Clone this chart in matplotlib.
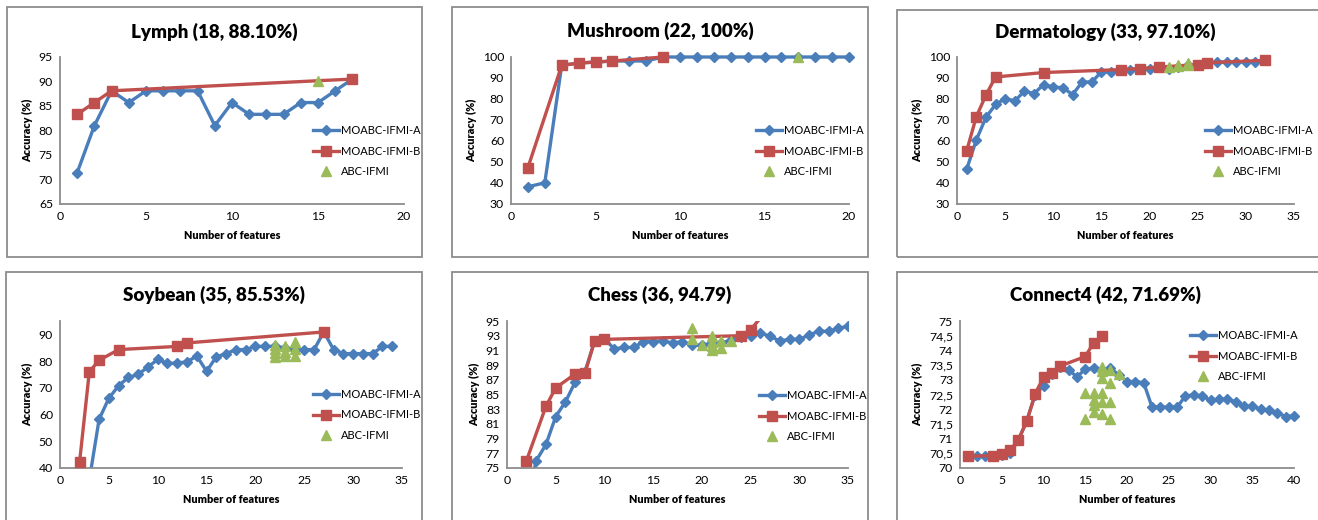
import matplotlib.pyplot as plt
from matplotlib.patches import Rectangle

W, H = 1318, 520

# ---- data ----
lymph_a_x = list(range(1, 18))
lymph_a = [71.4, 81.0, 88.1, 85.7, 88.1, 88.1, 88.1, 88.1, 81.0, 85.7,
           83.3, 83.3, 83.3, 85.7, 85.7, 88.1, 90.5]
lymph_b_x = [1, 2, 3, 17]
lymph_b = [83.3, 85.7, 88.1, 90.5]
lymph_c_x = [15]
lymph_c = [90.2]

mush_a_x = list(range(1, 21))
mush_a = [38.2, 40.1, 96.0, 97.1, 97.6, 98.1, 98.1, 98.1, 100, 100,
          100, 100, 100, 100, 100, 100, 100, 100, 100, 100]
mush_b_x = [1, 3, 4, 5, 6, 9]
mush_b = [47.3, 96.0, 97.1, 97.6, 98.1, 100]
mush_c_x = [17]
mush_c = [100]

derm_a_x = list(range(1, 33))
derm_a = [46.5, 60.4, 71.2, 77.4, 80.2, 79.1, 83.7, 82.6, 86.9, 85.7,
          85.4, 82.1, 88.1, 88.1, 92.9, 92.9, 93.7, 93.7, 94.5, 94.5,
          95.2, 94.5, 95.2, 96.0, 96.0, 97.1, 97.6, 97.6, 97.6, 97.6,
          97.6, 98.4]
derm_b_x = [1, 2, 3, 4, 9, 17, 19, 21, 25, 26, 32]
derm_b = [55.2, 71.5, 81.8, 90.5, 92.6, 94.0, 94.5, 95.2, 96.4, 97.3, 98.4]
derm_c_x = [22, 23, 23, 24, 24]
derm_c = [95.3, 96.2, 95.6, 97.1, 96.3]

soy_a_x = list(range(3, 35))
soy_a = [35.5, 58.2, 66.1, 70.8, 73.9, 75.0, 77.8, 80.6, 79.1, 79.3,
         79.7, 81.9, 76.2, 81.6, 82.8, 84.3, 84.3, 85.5, 85.5, 85.5,
         85.0, 84.0, 84.3, 84.3, 90.9, 84.3, 82.8, 82.8, 82.8, 82.8,
         85.5, 85.5]
soy_b_x = [2, 3, 4, 6, 12, 13, 27]
soy_b = [42.1, 76.0, 80.3, 84.3, 85.5, 86.8, 90.9]
soy_c_x = [22, 22, 22, 22, 23, 23, 23, 24, 24, 24]
soy_c = [86.0, 84.5, 83.0, 81.5, 85.5, 83.5, 82.0, 87.0, 84.5, 82.0]

chess_a_x = list(range(2, 36))
chess_a = [70.0, 76.0, 78.2, 82.0, 84.0, 86.7, 88.1, 92.3, 92.6, 91.2,
           91.4, 91.4, 92.2, 92.2, 92.3, 92.0, 92.2, 91.7, 91.7, 92.0,
           92.0, 92.4, 92.8, 92.9, 93.4, 92.9, 92.3, 92.5, 92.5, 93.1,
           93.6, 93.6, 94.0, 94.3]
chess_b_x = [2, 4, 5, 7, 8, 9, 10, 24, 25, 27]
chess_b = [76.0, 83.4, 85.9, 87.8, 87.9, 92.3, 92.5, 93.0, 93.8, 97.0]
chess_c_x = [19, 19, 20, 21, 21, 21, 21, 22, 22, 23]
chess_c = [94.0, 92.6, 91.7, 92.9, 92.2, 91.6, 91.0, 92.3, 91.3, 92.3]

con_a_x = list(range(1, 41))
con_a = [70.40, 70.40, 70.40, 70.40, 70.45, 70.50, 70.96, 71.60, 72.50, 72.80,
         73.20, 73.45, 73.34, 73.10, 73.36, 73.40, 73.34, 73.40, 73.17, 72.94,
         72.94, 72.90, 72.07, 72.07, 72.07, 72.07, 72.45, 72.49, 72.45, 72.30,
         72.34, 72.34, 72.26, 72.10, 72.10, 72.00, 71.96, 71.87, 71.75, 71.78]
con_b_x = [1, 4, 5, 6, 7, 8, 9, 10, 11, 12, 15, 16, 17]
con_b = [70.40, 70.42, 70.48, 70.60, 70.96, 71.60, 72.52, 73.09, 73.22, 73.47,
         73.79, 74.26, 74.49]
con_c_x = [15, 15, 16, 16, 16, 16, 17, 17, 17, 17, 17, 17, 18, 18, 18, 18, 19]
con_c = [72.55, 71.65, 72.55, 72.30, 72.15, 71.90, 73.45, 73.30, 73.05, 72.55,
         72.25, 71.85, 73.35, 72.90, 72.25, 71.65, 73.20]

titles = ['Lymph (18, 88.10%)', 'Mushroom (22, 100%)', 'Dermatology (33, 97.10%)',
          'Soybean (35, 85.53%)', 'Chess (36, 94.79)', 'Connect4 (42, 71.69%)']
labels = ['MOABC-IFMI-A', 'MOABC-IFMI-B', 'ABC-IFMI']

BLUE = '#4a7ebb'
RED = '#c0504d'
GREEN = '#9bbb59'
FONT = 'Lato'

plt.rcParams['font.family'] = FONT

fig = plt.figure(figsize=(W / 100, H / 100), dpi=100)

# panel frames (pixel boxes: left, top, right, bottom)
frames = [(7, 7, 422, 257), (452, 7, 868, 257), (897, 10, 1330, 257),
          (6, 272, 422, 540), (452, 272, 868, 540), (897, 272, 1330, 540)]
for l, t, r, b in frames:
    fig.patches.append(Rectangle((l / W, 1 - b / H), (r - l) / W, (b - t) / H,
                                 transform=fig.transFigure, fill=False,
                                 edgecolor='#8c8c8c', lw=1.3))

# plot areas in pixels: left, top, right, bottom
boxes = [(60, 57, 404, 204), (511, 57, 849, 204), (957, 57, 1294, 204),
         (60, 321, 402, 468), (507, 321, 848, 468), (960, 321, 1294, 468)]
xlims = [(0, 20, 5), (0, 20, 5), (0, 35, 5), (0, 35, 5), (0, 35, 5), (0, 40, 5)]
ylims = [(65, 95, 5), (30, 100, 10), (30, 100, 10), (40, 95, 10), (75, 95, 2), (70, 75, 0.5)]
series = [
    (lymph_a_x, lymph_a, lymph_b_x, lymph_b, lymph_c_x, lymph_c),
    (mush_a_x, mush_a, mush_b_x, mush_b, mush_c_x, mush_c),
    (derm_a_x, derm_a, derm_b_x, derm_b, derm_c_x, derm_c),
    (soy_a_x, soy_a, soy_b_x, soy_b, soy_c_x, soy_c),
    (chess_a_x, chess_a, chess_b_x, chess_b, chess_c_x, chess_c),
    (con_a_x, con_a, con_b_x, con_b, con_c_x, con_c),
]
# panels whose values run off the axis are clipped, the rest are not
clip = [False, False, False, True, True, False]
# legend anchor: handle left x, middle entry y (pixels)
legend_pos = [(313, 151), (756, 151), (1205, 151), (313, 415), (759, 416), (1190, 356)]
title_pos = [(214, 32), (660, 31), (1105, 32), (214, 295), (660, 295), (1105, 295)]

for i, (l, t, r, b) in enumerate(boxes):
    ax = fig.add_axes([l / W, 1 - b / H, (r - l) / W, (b - t) / H])
    ax_, ay, bx, by, cx, cy = series[i]
    ha, = ax.plot(ax_, ay, color=BLUE, lw=2.4, marker='D', ms=5.5, zorder=2,
                  clip_on=clip[i])
    hb, = ax.plot(bx, by, color=RED, lw=2.4, marker='s', ms=7, zorder=3,
                  clip_on=clip[i])
    hc, = ax.plot(cx, cy, ls='none', color=GREEN, marker='^', ms=7.5, zorder=4,
                  clip_on=clip[i])

    x0, x1, xs = xlims[i]
    y0, y1, ys = ylims[i]
    ax.set_xlim(x0, x1)
    ax.set_ylim(y0, y1)
    ax.set_xticks(range(x0, x1 + 1, xs))
    if i == 5:
        yt = [70 + 0.5 * k for k in range(11)]
        ax.set_yticks(yt)
        ax.set_yticklabels([('%g' % v).replace('.', ',') for v in yt])
    elif i == 3:
        ax.set_yticks(range(40, 91, 10))
    else:
        ax.set_yticks(range(y0, y1 + 1, ys))

    for s in ('top', 'right'):
        ax.spines[s].set_visible(False)
    for s in ('left', 'bottom'):
        ax.spines[s].set_color('#8c8c8c')
        ax.spines[s].set_linewidth(1.3)
    ax.tick_params(length=0, labelsize=8.8, pad=5, colors='#000000')
    ax.patch.set_visible(False)

    ax.set_xlabel('Number of features', fontsize=7.8, fontweight='heavy', labelpad=6)
    ax.set_ylabel('Accuracy (%)', fontsize=7.8, fontweight='heavy', labelpad=4)

    hx, hy = legend_pos[i]
    ax.legend([ha, hb, hc], labels, loc='center left',
              bbox_to_anchor=(hx / W, 1 - hy / H), bbox_transform=fig.transFigure,
              frameon=False, fontsize=8, borderpad=0, borderaxespad=0,
              handlelength=2.3, handletextpad=0.2, labelspacing=0.85)

    tx, ty = title_pos[i]
    fig.text(tx / W, 1 - ty / H, titles[i], ha='center', va='center',
             fontsize=13.5, fontweight='heavy')

fig.savefig('out.png', dpi=100)
